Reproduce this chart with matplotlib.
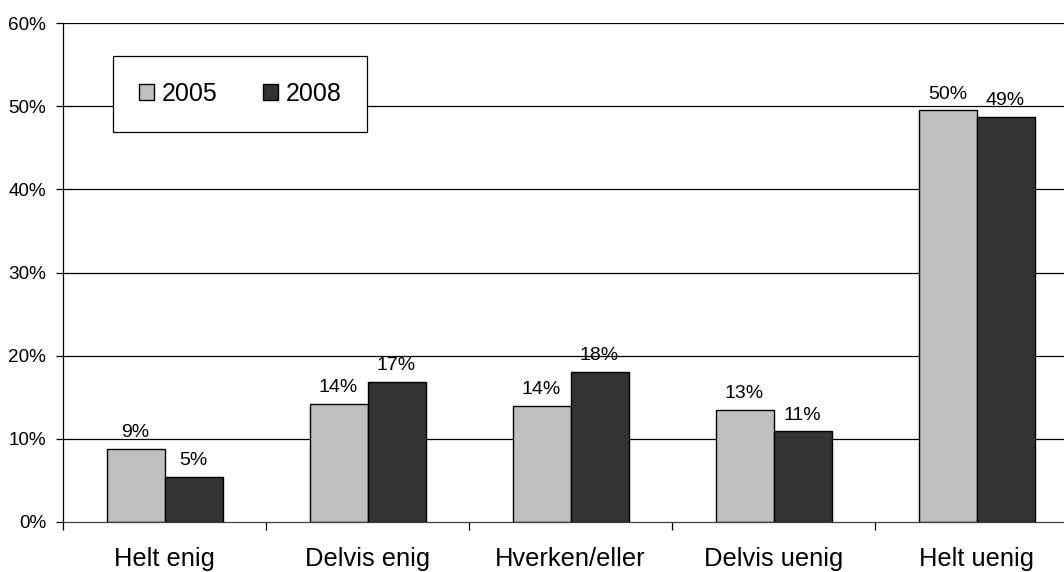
import matplotlib.pyplot as plt
from matplotlib.ticker import FixedLocator, PercentFormatter

plt.rcParams['font.family'] = ['Liberation Sans', 'DejaVu Sans']

categories = ['Helt enig', 'Delvis enig', 'Hverken/eller', 'Delvis uenig', 'Helt uenig']
years = ['2005', '2008']
values_2005 = [8.8, 14.2, 14.0, 13.5, 49.5]
values_2008 = [5.4, 16.8, 18.0, 10.9, 48.7]
labels_2005 = ['9%', '14%', '14%', '13%', '50%']
labels_2008 = ['5%', '17%', '18%', '11%', '49%']


def main():
    fig = plt.figure(figsize=(10.64, 5.72), dpi=100)
    ax = fig.add_axes([63 / 1064, 1 - 522 / 572, 1015 / 1064, 499 / 572])

    width = 58 / 203
    x = range(len(categories))
    x05 = [i - width / 2 for i in x]
    x08 = [i + width / 2 for i in x]

    ax.set_axisbelow(True)
    for v in [10, 20, 30, 40, 50, 60]:
        ax.axhline(v, color='black', linewidth=0.9, zorder=0)

    b1 = ax.bar(x05, values_2005, width, color='#c0c0c0', edgecolor='black',
                linewidth=1, label=years[0], zorder=2)
    b2 = ax.bar(x08, values_2008, width, color='#333333', edgecolor='black',
                linewidth=1, label=years[1], zorder=2)

    for xs, vals, labs in [(x05, values_2005, labels_2005), (x08, values_2008, labels_2008)]:
        for xi, v, lab in zip(xs, vals, labs):
            ax.annotate(lab, (xi, v), xytext=(0, 8.5), textcoords='offset points',
                        ha='center', va='baseline', fontsize=14)

    ax.set_xlim(-0.5, 4.5)
    ax.set_ylim(0, 60)
    ax.yaxis.set_major_locator(FixedLocator([0, 10, 20, 30, 40, 50, 60]))
    ax.yaxis.set_major_formatter(PercentFormatter(decimals=0))
    ax.tick_params(axis='y', length=5, width=0.9, pad=7, labelsize=13.6)

    ax.set_xticks(list(x))
    ax.set_xticklabels(categories, fontsize=18.4)
    ax.set_xticks([i + 0.5 for i in range(-1, 5)], minor=True)
    ax.tick_params(axis='x', which='major', length=0, pad=18)
    ax.tick_params(axis='x', which='minor', length=6, width=0.9)

    for side in ['top', 'right']:
        ax.spines[side].set_visible(False)
    ax.spines['left'].set_linewidth(0.9)
    ax.spines['bottom'].set_linewidth(0.9)
    ax.spines['bottom'].set_color('#404040')

    leg = ax.legend(handles=[b1, b2], loc='upper left', bbox_to_anchor=(0.0493, 0.934),
                    ncol=2, fontsize=18, frameon=True, fancybox=False, framealpha=1,
                    borderpad=1.05, handlelength=0.6, handleheight=0.6,
                    handletextpad=0.28, columnspacing=1.85, borderaxespad=0)
    leg.get_frame().set_edgecolor('black')
    leg.get_frame().set_linewidth(0.9)

    fig.savefig('out.png', dpi=100)


if __name__ == '__main__':
    main()
